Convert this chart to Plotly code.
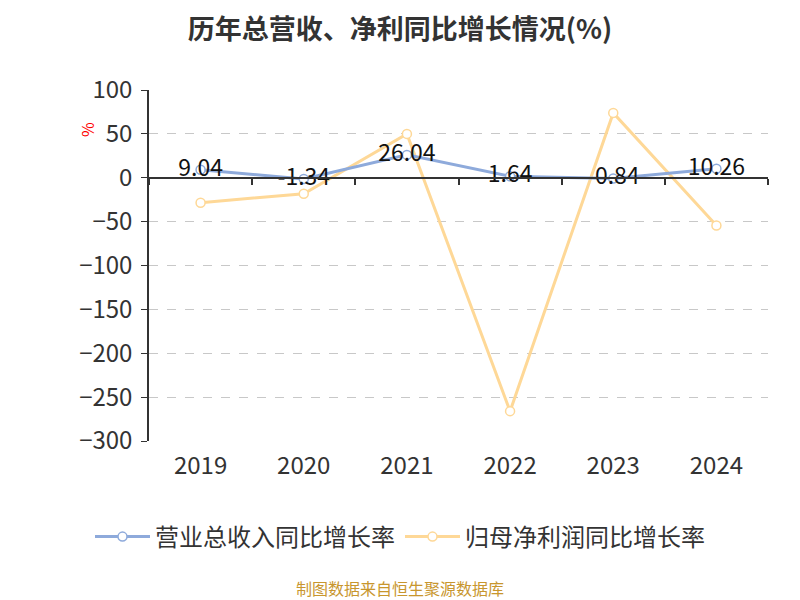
import plotly.graph_objects as go

years = ["2019", "2020", "2021", "2022", "2023", "2024"]
revenue_growth = [9.04, -1.34, 26.04, 1.64, -0.84, 10.26]
profit_growth = [-28.4, -18.2, 50.0, -266.0, 73.9, -54.5]
revenue_labels = ["9.04", "-1.34", "26.04", "1.64", "-0.84", "10.26"]
y_ticks = [100, 50, 0, -50, -100, -150, -200, -250, -300]

FONT = "Noto Sans CJK SC"
blue = "#8eaadb"
orange = "#fed897"

# page body adds an 8px offset; layout below is expressed in figure pixels
L, T, R, B = 141, 82, 40, 167
W, H = 800, 600
pw, ph = W - L - R, H - T - B

def px_x(sx):
    return (sx - 8 - L) / pw

def px_y(sy):
    return (H - B - (sy - 8)) / ph

fig = go.Figure()

fig.add_trace(go.Scatter(
    x=years, y=profit_growth, name="归母净利润同比增长率",
    mode="lines+markers",
    line=dict(color=orange, width=3),
    marker=dict(symbol="circle", size=9, color="white", line=dict(color=orange, width=1.5)),
))
fig.add_trace(go.Scatter(
    x=years, y=revenue_growth, name="营业总收入同比增长率",
    mode="lines+markers+text", text=revenue_labels, textposition="middle center",
    textfont=dict(size=23, color="#111", family=FONT),
    line=dict(color=blue, width=3),
    marker=dict(symbol="circle", size=9, color="white", line=dict(color=blue, width=1.5)),
))
# invisible trace to carry the zero-line axis with ticks
fig.add_trace(go.Scatter(
    x=years, y=revenue_growth, xaxis="x2", mode="markers",
    marker=dict(opacity=0), showlegend=False, hoverinfo="skip",
))

fig.update_layout(
    width=W, height=H,
    paper_bgcolor="white", plot_bgcolor="white",
    margin=dict(l=L, r=R, t=T, b=B),
    font=dict(family=FONT, color="#333"),
    title=dict(text="<b>历年总营收、净利同比增长情况(%)</b>", x=(400 - 8) / W,
               xanchor="center", y=1 - (30 - 8) / H, yanchor="middle",
               font=dict(size=27, color="#333", family=FONT)),
    showlegend=True,
    legend=dict(orientation="h", x=px_x(400), xanchor="center", y=px_y(537), yanchor="middle",
                font=dict(size=24, color="#333", family=FONT), itemwidth=55,
                traceorder="reversed"),
    xaxis=dict(type="category", categoryorder="array", categoryarray=years,
               range=[-0.5, 5.5], showline=False, showgrid=False, ticks="",
               ticklabelstandoff=8,
               tickfont=dict(size=24, color="#333"), zeroline=False),
    xaxis2=dict(type="category", categoryorder="array", categoryarray=years,
                range=[-0.5, 5.5], overlaying="x", anchor="free", position=0.75,
                showline=True, linecolor="#333", linewidth=1.5, ticks="outside",
                ticklen=6, tickcolor="#333", tickwidth=1.5, tickson="boundaries",
                showticklabels=False, showgrid=False, zeroline=False),
    yaxis=dict(range=[-300, 100], tickvals=y_ticks, showline=True, linecolor="#333",
               linewidth=1.5, ticks="outside", ticklen=6, tickcolor="#333",
               ticklabelstandoff=4,
               tickfont=dict(size=24, color="#333"), showgrid=True, gridcolor="#c8c8c8",
               griddash="dash", gridwidth=1, zeroline=False),
    annotations=[
        dict(text="%", x=px_x(87), y=px_y(130), xref="paper", yref="paper", showarrow=False,
             xanchor="center", yanchor="middle",
             textangle=-90, font=dict(size=16, color="red", family=FONT)),
        dict(text="制图数据来自恒生聚源数据库", x=px_x(400), y=px_y(588), xref="paper", yref="paper",
             xanchor="center", yanchor="middle",
             showarrow=False, font=dict(size=16, color="#c8962e", family=FONT)),
    ],
)

fig.write_html("out.html")
